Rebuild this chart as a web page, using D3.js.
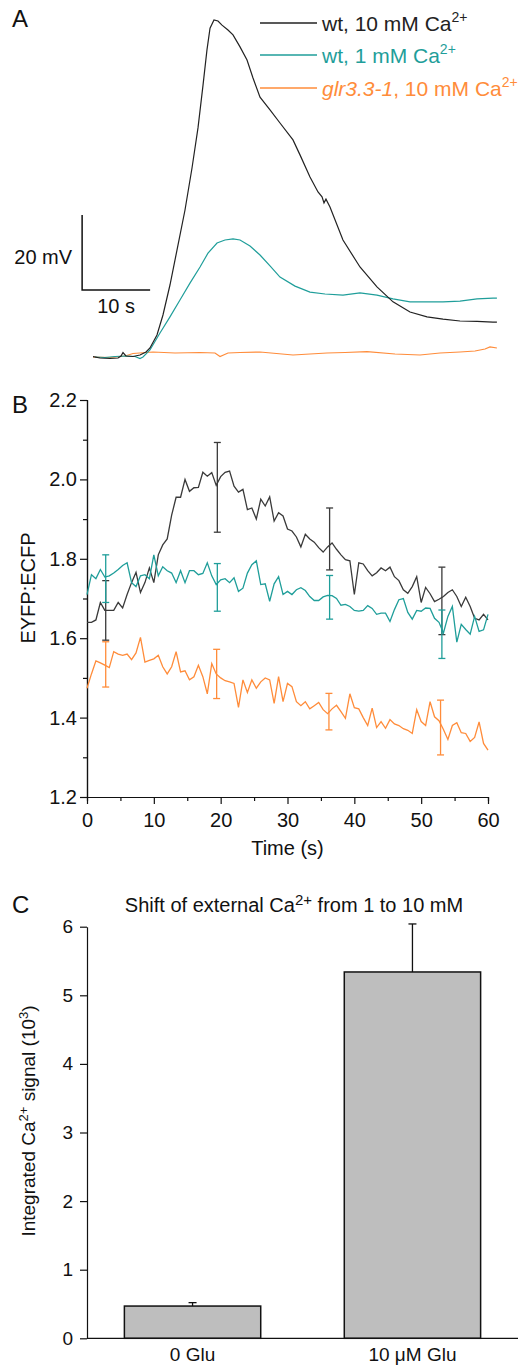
<!DOCTYPE html>
<html>
<head>
<meta charset="utf-8">
<script src="https://cdnjs.cloudflare.com/ajax/libs/d3/7.8.5/d3.min.js"></script>
<style>
  body { margin: 0; background: #fff; }
  svg text { font-family: "Liberation Sans", Arial, sans-serif; fill: #111; }
</style>
</head>
<body>
<svg id="screen"></svg>
<script>
//
// Three stacked panels: A membrane traces, B EYFP:ECFP ratio, C integrated Ca signal
//

// ---- panel A data: [time (s), depolarisation (mV)] ----
const traceWt10 = [
  [0, 0.1], [1.03, -0.27], [2.5, -0.4], [3.68, -0.27], [4.12, 0.27], [4.41, 1.2], [4.85, 0.27],
  [5.88, 0.13], [6.91, 0.53], [7.79, 1.33], [8.38, 2.4], [9.41, 5.87], [10.29, 11.2], [11.32, 19.2],
  [12.35, 28.5], [13.53, 39.2], [14.56, 50.4], [15.44, 61.1], [16.18, 72.5], [16.76, 81.9],
  [17.21, 87.7], [17.79, 89.9], [18.38, 89.6], [18.97, 88.5], [19.85, 87.2], [20.59, 85.9],
  [21.62, 82.7], [22.65, 79.2], [23.53, 74.4], [24.56, 69.3], [26.03, 65.9], [27.5, 62.4],
  [29.41, 57.9], [30.44, 53.9], [31.91, 48.0], [33.09, 44.0], [33.68, 42.7], [33.97, 41.1],
  [34.26, 42.1], [34.85, 40.0], [36.76, 31.2], [39.26, 24.0], [41.76, 18.7], [44.12, 14.7],
  [46.62, 12.0], [49.12, 10.7], [51.47, 10.1], [53.97, 9.6], [56.47, 9.5], [58.82, 9.3], [59.4, 9.3]
]
const traceWt1 = [
  [0.29, 0], [1.76, -0.13], [3.24, 0.13], [4.71, 0.27], [6.18, 0.13], [6.91, -0.4], [7.35, 0],
  [8.38, 1.87], [9.85, 6.4], [11.32, 10.7], [12.79, 15.2], [14.26, 19.7], [15.74, 24.0],
  [16.91, 27.7], [18.24, 30.4], [19.41, 31.2], [20.59, 31.5], [21.62, 31.2], [23.09, 29.6],
  [24.56, 27.2], [26.03, 24.3], [27.5, 21.3], [29.71, 18.9], [31.91, 17.3], [34.12, 16.8],
  [36.76, 16.5], [39.26, 17.1], [41.76, 16.5], [44.12, 15.5], [46.62, 14.7], [48.82, 14.7],
  [51.47, 14.7], [53.97, 14.9], [56.47, 15.5], [58.82, 15.7], [59.4, 15.7]
]
const traceGlr = [
  [0, 0], [2.5, -0.13], [4.71, 0.27], [5.88, 0.93], [8.82, 1.33], [12.06, 1.07], [15.74, 1.2],
  [17.94, 1.07], [18.68, 0.13], [19.85, 1.07], [21.62, 1.2], [24.56, 1.33], [29.41, 0.53],
  [31.91, 0.8], [34.41, 1.07], [37.06, 1.2], [40.29, 1.41], [44.41, 0.8], [48.09, 0.53],
  [51.03, 1.07], [53.97, 1.33], [56.18, 1.6], [57.65, 2.13], [58.38, 2.67], [59.4, 2.4]
]

// ---- panel B data: ratio sampled every frame ----
const frameStep = 2 / 3   // s between frames
const ratioWt10 = [
  1.64, 1.64, 1.646, 1.69, 1.67, 1.67, 1.67, 1.69, 1.676, 1.71, 1.74, 1.766, 1.715, 1.74, 1.777, 1.74,
  1.81, 1.835, 1.85, 1.91, 1.955, 1.955, 2.0, 1.97,
  1.979, 1.98, 2.018, 2.008, 2.017, 1.985, 2.007, 2.018, 2.021, 1.983, 1.968, 1.975, 1.924, 1.928,
  1.9, 1.95, 1.933, 1.956, 1.895, 1.916, 1.908, 1.875,
  1.87, 1.855, 1.83, 1.862, 1.85, 1.842, 1.828, 1.817, 1.83, 1.84, 1.824, 1.81, 1.798, 1.795, 1.71,
  1.79, 1.787, 1.77, 1.757, 1.765, 1.777, 1.77, 1.779,
  1.755, 1.745, 1.722, 1.713, 1.73, 1.755, 1.69, 1.728, 1.712, 1.692, 1.698, 1.705, 1.715, 1.722,
  1.705, 1.68, 1.703, 1.68, 1.65, 1.646, 1.66, 1.646
]
const ratioWt1 = [
  1.71, 1.76, 1.75, 1.773, 1.754, 1.757, 1.764, 1.773, 1.783, 1.79, 1.74, 1.73, 1.757, 1.76, 1.75,
  1.81, 1.757, 1.78, 1.77, 1.764, 1.74, 1.77, 1.74, 1.77,
  1.77, 1.76, 1.763, 1.79, 1.757, 1.735, 1.747, 1.75, 1.74, 1.752, 1.718, 1.726, 1.764, 1.785,
  1.795, 1.735, 1.737, 1.693, 1.737, 1.755, 1.71, 1.718,
  1.71, 1.722, 1.727, 1.72, 1.705, 1.695, 1.695, 1.704, 1.708, 1.707, 1.7, 1.683, 1.685, 1.68,
  1.67, 1.668, 1.67, 1.682, 1.675, 1.66, 1.663, 1.663, 1.642,
  1.672, 1.697, 1.70, 1.665, 1.648, 1.67, 1.668, 1.676, 1.675, 1.65, 1.64, 1.613, 1.655, 1.68,
  1.59, 1.635, 1.622, 1.61, 1.655, 1.617, 1.621, 1.66
]
const ratioGlr = [
  1.474, 1.51, 1.543, 1.538, 1.532, 1.526, 1.566, 1.56, 1.557, 1.56, 1.546, 1.563, 1.602, 1.54,
  1.544, 1.548, 1.557, 1.528, 1.51, 1.528, 1.566, 1.515, 1.518, 1.495,
  1.503, 1.532, 1.503, 1.46, 1.536, 1.51, 1.5, 1.493, 1.49, 1.486, 1.426, 1.495, 1.463, 1.495,
  1.474, 1.49, 1.5, 1.495, 1.436, 1.503, 1.44, 1.486,
  1.478, 1.44, 1.43, 1.44, 1.422, 1.43, 1.438, 1.42, 1.41, 1.422, 1.431, 1.415, 1.398, 1.46, 1.425,
  1.422, 1.4, 1.38, 1.424, 1.375, 1.39, 1.373, 1.395,
  1.384, 1.38, 1.372, 1.368, 1.36, 1.42, 1.39, 1.38, 1.44, 1.402, 1.392, 1.37, 1.345, 1.38, 1.387,
  1.362, 1.36, 1.34, 1.35, 1.389, 1.335, 1.318
]
// error bars: [time, mean, sem]
const errWt10 = [[2.8, 1.67, 0.075], [19.5, 1.98, 0.113], [36.3, 1.85, 0.078], [53.1, 1.694, 0.085]]
const errWt1 = [[2.8, 1.75, 0.06], [19.5, 1.728, 0.06], [36.3, 1.703, 0.055], [53.1, 1.61, 0.061]]
const errGlr = [[2.8, 1.534, 0.057], [19.4, 1.51, 0.062], [36.2, 1.415, 0.046], [52.9, 1.375, 0.069]]

const ratioTicks = [1.2, 1.4, 1.6, 1.8, 2.0, 2.2]
const ratioMinor = [1.3, 1.5, 1.7, 1.9, 2.1]
const timeTicks = [0, 10, 20, 30, 40, 50, 60]
const timeMinor = [5, 15, 25, 35, 45, 55]

// ---- panel C data ----
const treatments = ["0 Glu", "10 \u03BCM Glu"]
const signalMean = [0.47, 5.34]
const signalSem = [0.05, 0.70]
const signalTicks = [0, 1, 2, 3, 4, 5, 6]

// colours
const cBlack = "#2b2b2b"
const cTeal = "#1f9e9a"
const cOrange = "#ff8c3a"

//---------------------------------------

let svg = d3.select('#screen')
  .attr('width', 525)
  .attr('height', 1366)

// panel letters
;[["A", 27], ["B", 413], ["C", 913]].forEach(function(d){
  svg.append('text')
    .attr('x', 12).attr('y', d[1])
    .attr('font-size', 24)
    .text(d[0])
})

//// part 1) panel A
let xA = d3.scaleLinear().domain([0, 60]).range([93, 501])
let yA = d3.scaleLinear().domain([0, 20]).range([357, 282])
let lineA = d3.line().x(d => xA(d[0])).y(d => yA(d[1]))

let panelA = svg.append('g').attr('id', 'panelA')

panelA.append('path').datum(traceGlr)
  .attr('d', lineA).attr('fill', 'none').attr('stroke', cOrange).attr('stroke-width', 1.2)
panelA.append('path').datum(traceWt1)
  .attr('d', lineA).attr('fill', 'none').attr('stroke', cTeal).attr('stroke-width', 1.2)
panelA.append('path').datum(traceWt10)
  .attr('d', lineA).attr('fill', 'none').attr('stroke', "#222").attr('stroke-width', 1.2)

// scale bar 20 mV / 10 s
let barT = -1.6, barV = 17.9
panelA.append('path')
  .attr('d', d3.line()([[xA(barT), yA(barV + 20)], [xA(barT), yA(barV)], [xA(barT + 10), yA(barV)]]))
  .attr('fill', 'none').attr('stroke', '#111').attr('stroke-width', 1.5)
panelA.append('text')
  .attr('x', xA(barT) - 10).attr('y', 264)
  .attr('text-anchor', 'end').attr('font-size', 20)
  .text("20 mV")
panelA.append('text')
  .attr('x', xA(barT + 5)).attr('y', 313)
  .attr('text-anchor', 'middle').attr('font-size', 20)
  .text("10 s")

// legend
let legendRows = [
  {y: 23, color: "#222"},
  {y: 55, color: cTeal},
  {y: 88, color: cOrange}
]
legendRows.forEach(function(d, i){
  panelA.append('line')
    .attr('x1', 260).attr('x2', 317).attr('y1', d.y).attr('y2', d.y)
    .attr('stroke', d.color).attr('stroke-width', 1.3)
  let t = panelA.append('text')
    .attr('x', 322).attr('y', d.y + 8)
    .attr('font-size', 21)
    .style('fill', d.color)
  if (i == 2) {
    t.append('tspan').attr('font-style', 'italic').text("glr3.3-1")
    t.append('tspan').text(", 10 mM Ca")
  } else if (i == 1) {
    t.append('tspan').text("wt, 1 mM Ca")
  } else {
    t.append('tspan').text("wt, 10 mM Ca")
  }
  t.append('tspan').attr('dy', -9).attr('font-size', 14).text("2+")
})

//// part 2) panel B
let xB = d3.scaleLinear().domain([0, 60]).range([87, 488])
let yB = d3.scaleLinear().domain([1.2, 2.2]).range([797, 400])
let lineB = d3.line().x((d, i) => xB(i * frameStep)).y(d => yB(d))

let panelB = svg.append('g').attr('id', 'panelB')

// axes
panelB.append('g')
  .attr('transform', 'translate(0,' + yB(1.2) + ')')
  .call(d3.axisBottom(xB).tickValues(timeMinor).tickSize(4).tickFormat(''))
panelB.append('g')
  .attr('transform', 'translate(0,' + yB(1.2) + ')')
  .call(d3.axisBottom(xB).tickValues(timeTicks).tickSize(7).tickSizeOuter(0).tickPadding(9))
panelB.append('g')
  .attr('transform', 'translate(' + xB(0) + ',0)')
  .call(d3.axisLeft(yB).tickValues(ratioMinor).tickSize(4).tickFormat(''))
panelB.append('g')
  .attr('transform', 'translate(' + xB(0) + ',0)')
  .call(d3.axisLeft(yB).tickValues(ratioTicks).tickSize(7).tickSizeOuter(0).tickPadding(3)
          .tickFormat(d3.format('.1f')))

panelB.selectAll('.tick text').attr('font-size', 20).style('fill', '#111')
panelB.selectAll('.domain, .tick line').attr('stroke', '#111').attr('stroke-width', 1.2)

panelB.append('text')
  .attr('x', (xB(0) + xB(60)) / 2).attr('y', 855)
  .attr('text-anchor', 'middle').attr('font-size', 20)
  .text("Time (s)")
panelB.append('text')
  .attr('transform', 'translate(35,588) rotate(-90)')
  .attr('text-anchor', 'middle').attr('font-size', 20)
  .text("EYFP:ECFP")

// series + error bars
let seriesB = [
  {vals: ratioWt10, err: errWt10, color: "#3a3a3a"},
  {vals: ratioWt1, err: errWt1, color: cTeal},
  {vals: ratioGlr, err: errGlr, color: cOrange}
]
seriesB.forEach(function(s){
  panelB.append('path').datum(s.vals)
    .attr('d', lineB).attr('fill', 'none')
    .attr('stroke', s.color).attr('stroke-width', 1.3)
  s.err.forEach(function(e){
    let x = xB(e[0])
    let lo = yB(e[1] - e[2]), hi = yB(e[1] + e[2])
    panelB.append('line').attr('x1', x).attr('x2', x).attr('y1', lo).attr('y2', hi)
      .attr('stroke', s.color).attr('stroke-width', 1.3)
    ;[lo, hi].forEach(function(y){
      panelB.append('line').attr('x1', x - 3.5).attr('x2', x + 3.5).attr('y1', y).attr('y2', y)
        .attr('stroke', s.color).attr('stroke-width', 1.3)
    })
  })
})

//// part 3) panel C
let xC = d3.scaleBand().domain(treatments).range([87, 518]).paddingInner(0.38).paddingOuter(0.17)
let yC = d3.scaleLinear().domain([0, 6]).range([1338.3, 926.7])

let panelC = svg.append('g').attr('id', 'panelC')

panelC.append('text')
  .attr('x', 294).attr('y', 912)
  .attr('text-anchor', 'middle').attr('font-size', 20)
  .call(function(t){
    t.append('tspan').text("Shift of external Ca")
    t.append('tspan').attr('dy', -7).attr('font-size', 15).text("2+")
    t.append('tspan').attr('dy', 7).text(" from 1 to 10 mM")
  })

// error bars first (upper only), then bars
treatments.forEach(function(d, i){
  let cx = xC(d) + xC.bandwidth() / 2
  let top = yC(signalMean[i] + signalSem[i])
  panelC.append('line').attr('x1', cx).attr('x2', cx)
    .attr('y1', yC(signalMean[i])).attr('y2', top)
    .attr('stroke', '#111').attr('stroke-width', 1.3)
  panelC.append('line').attr('x1', cx - 4).attr('x2', cx + 4).attr('y1', top).attr('y2', top)
    .attr('stroke', '#111').attr('stroke-width', 1.3)
})

panelC.selectAll('rect')
  .data(signalMean)
  .enter()
  .append('rect')
  .attr('x', (d, i) => xC(treatments[i]))
  .attr('y', d => yC(d))
  .attr('width', xC.bandwidth())
  .attr('height', d => yC(0) - yC(d))
  .attr('fill', '#bebebe')
  .attr('stroke', '#111')
  .attr('stroke-width', 1.5)

let yAxisC = panelC.append('g')
  .attr('transform', 'translate(87,0)')
  .call(d3.axisLeft(yC).tickValues(signalTicks).tickSize(7).tickSizeOuter(0).tickPadding(7)
          .tickFormat(d3.format('d')))
let xAxisC = panelC.append('g')
  .attr('transform', 'translate(0,' + yC(0) + ')')
  .call(d3.axisBottom(xC).tickSize(0).tickPadding(9))
xAxisC.select('.domain').attr('d', 'M87,0H518')

panelC.selectAll('.tick text').attr('font-size', 19).style('fill', '#111')
panelC.selectAll('.domain, .tick line').attr('stroke', '#111').attr('stroke-width', 1.2)

panelC.append('text')
  .attr('transform', 'translate(35,1121) rotate(-90)')
  .attr('text-anchor', 'middle').attr('font-size', 19)
  .call(function(t){
    t.append('tspan').text("Integrated Ca")
    t.append('tspan').attr('dy', -7).attr('font-size', 13).text("2+")
    t.append('tspan').attr('dy', 7).text(" signal (10")
    t.append('tspan').attr('dy', -7).attr('font-size', 13).text("3")
    t.append('tspan').attr('dy', 7).text(")")
  })

</script>
</body>
</html>
